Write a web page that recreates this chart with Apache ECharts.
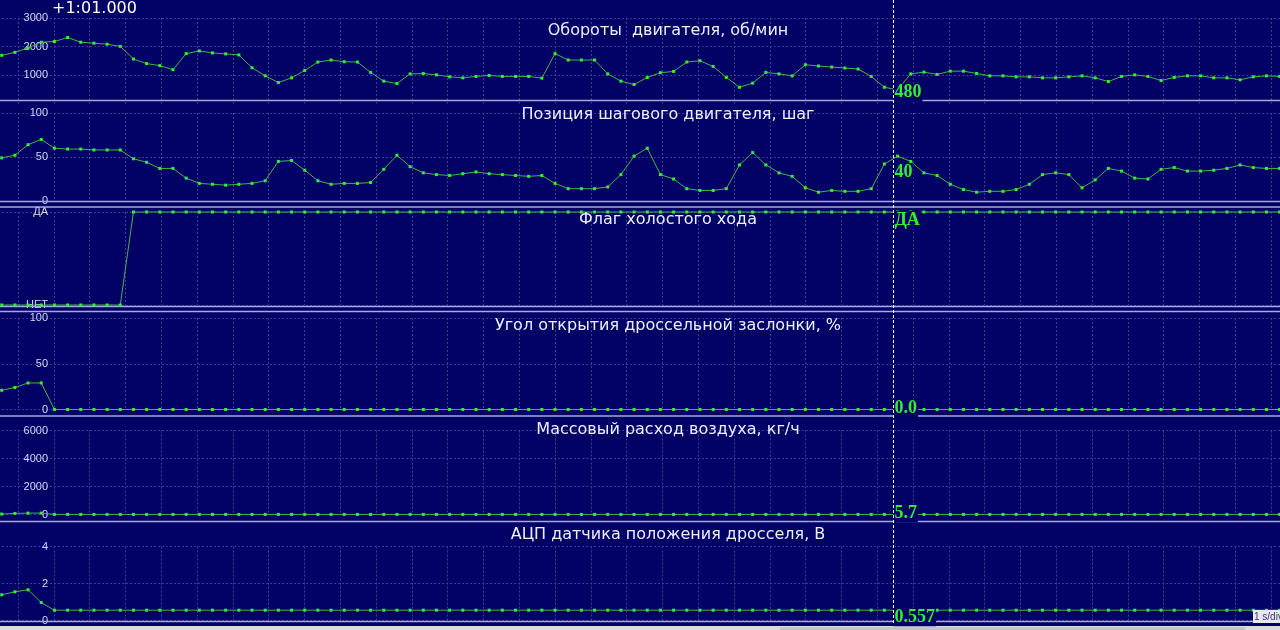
<!DOCTYPE html>
<html><head><meta charset="utf-8">
<script src="https://cdn.jsdelivr.net/npm/echarts@6/dist/echarts.min.js"></script>
<style>html,body{margin:0;padding:0;background:#020266;overflow:hidden;width:1280px;height:630px;position:relative}
#c{position:absolute;left:-18px;top:0;width:1330px;height:630px}</style>
</head><body><div id="c"></div>
<script>
// ---- data ----
const SAMPLE_START = 0.545;   // s, time of first visible sample
const SAMPLE_PERIOD = 0.368;  // s
const CURSOR_TIME = 25.44;    // s
const TIME_LABEL = '+1:01.000';
const DIV_LABEL = '1 s/div';

const titles = [
  'Обороты  двигателя, об/мин',
  'Позиция шагового двигателя, шаг',
  'Флаг холостого хода',
  'Угол открытия дроссельной заслонки, %',
  'Массовый расход воздуха, кг/ч',
  'АЦП датчика положения дросселя, В'
];

const rpm = [1690,1795,1950,2150,2175,2315,2150,2115,2080,2005,1560,1400,1330,1185,1750,1845,1775,1740,1705,1255,
  970,735,900,1160,1455,1525,1465,1455,1090,785,700,1040,1050,1005,935,900,950,985,950,950,
  950,890,1750,1525,1525,1525,1040,785,665,915,1080,1125,1455,1500,1300,915,570,715,1090,1040,
  970,1360,1315,1280,1245,1210,950,570,480,1040,1100,1020,1135,1135,1055,970,970,935,935,900,
  900,935,970,900,770,950,1005,950,805,915,970,970,900,900,830,935,970,950];

const stepper = [49,52,64,70,60,59,59,58,58,58,48,44,37,37,26,20,19,18,19,20,
  23,45,46,35,23,19,20,20,21,36,52,39,32,30,29,31,33,31,30,29,
  28,29,20,14,14,14,16,30,51,60,30,25,14,12,12,14,41,55,41,32,
  28,15,10,12,11,11,14,42,51,45,32,29,19,13,10,11,11,13,19,30,
  32,30,15,24,37,34,26,25,36,38,34,34,35,37,41,38,37,37];

const idleFlag = [0,0,0,0,0,0,0,0,0,0,1,1,1,1,1,1,1,1,1,1,
  1,1,1,1,1,1,1,1,1,1,1,1,1,1,1,1,1,1,1,1,
  1,1,1,1,1,1,1,1,1,1,1,1,1,1,1,1,1,1,1,1,
  1,1,1,1,1,1,1,1,1,1,1,1,1,1,1,1,1,1,1,1,
  1,1,1,1,1,1,1,1,1,1,1,1,1,1,1,1,1,1];

const throttle = [21,24,29,29,0,0,0,0,0,0,0,0,0,0,0,0,0,0,0,0,
  0,0,0,0,0,0,0,0,0,0,0,0,0,0,0,0,0,0,0,0,
  0,0,0,0,0,0,0,0,0,0,0,0,0,0,0,0,0,0,0,0,
  0,0,0,0,0,0,0,0,0,0,0,0,0,0,0,0,0,0,0,0,
  0,0,0,0,0,0,0,0,0,0,0,0,0,0,0,0,0,0];

const airMass = [30,75,100,100,5.7,5.7,5.7,5.7,5.7,5.7,5.7,5.7,5.7,5.7,5.7,5.7,5.7,5.7,5.7,5.7,
  5.7,5.7,5.7,5.7,5.7,5.7,5.7,5.7,5.7,5.7,5.7,5.7,5.7,5.7,5.7,5.7,5.7,5.7,5.7,5.7,
  5.7,5.7,5.7,5.7,5.7,5.7,5.7,5.7,5.7,5.7,5.7,5.7,5.7,5.7,5.7,5.7,5.7,5.7,5.7,5.7,
  5.7,5.7,5.7,5.7,5.7,5.7,5.7,5.7,5.7,5.7,5.7,5.7,5.7,5.7,5.7,5.7,5.7,5.7,5.7,5.7,
  5.7,5.7,5.7,5.7,5.7,5.7,5.7,5.7,5.7,5.7,5.7,5.7,5.7,5.7,5.7,5.7,5.7,5.7];

const tpsAdc = [1.39,1.55,1.66,0.97,0.557,0.557,0.557,0.557,0.557,0.557,0.557,0.557,0.557,0.557,0.557,0.557,0.557,0.557,0.557,0.557,
  0.557,0.557,0.557,0.557,0.557,0.557,0.557,0.557,0.557,0.557,0.557,0.557,0.557,0.557,0.557,0.557,0.557,0.557,0.557,0.557,
  0.557,0.557,0.557,0.557,0.557,0.557,0.557,0.557,0.557,0.557,0.557,0.557,0.557,0.557,0.557,0.557,0.557,0.557,0.557,0.557,
  0.557,0.557,0.557,0.557,0.557,0.557,0.557,0.557,0.557,0.557,0.557,0.557,0.557,0.557,0.557,0.557,0.557,0.557,0.557,0.557,
  0.557,0.557,0.557,0.557,0.557,0.557,0.557,0.557,0.557,0.557,0.557,0.557,0.557,0.557,0.557,0.557,0.557,0.557];

const yMin = [0, 0, 0, 0, 0, 0];
const yMax = [3000, 100, 1, 100, 6000, 4];
const yInterval = [1000, 50, 1, 50, 2000, 2];
const flagLabels = ['НЕТ', 'ДА'];

const cursorValues = [480, 40, 1, 0, 5.7, 0.557];
const cursorTexts = ['480', '40', 'ДА', '0.0', '5.7', '0.557'];

const X_MAX = 37;
// ---- layout / style ----
const OX = 18; // chart canvas is shifted 18px left of the page
const BG = '#020266';
const GRIDC = '#3e3e94';
const SEPC = '#a8a8de';
const panels = [
  {top: 18, height: 85.5, titleY: 31, lblDy: 3},
  {top: 113, height: 88, titleY: 115, lblDy: 7},
  {top: 212, height: 93, titleY: 220, lblDy: 8},
  {top: 318, height: 91.5, titleY: 326, lblDy: -1.5},
  {top: 430.5, height: 84, titleY: 430, lblDy: -1},
  {top: 546.5, height: 74, titleY: 535, lblDy: 7}
];
const seriesData = [rpm, stepper, idleFlag, throttle, airMass, tpsAdc];
const times = rpm.map((_, k) => +(SAMPLE_START + k * SAMPLE_PERIOD).toFixed(4));

const chart = echarts.init(document.getElementById('c'), null, {renderer: 'canvas'});

const grid = [], xAxis = [], yAxis = [], series = [];
panels.forEach((p, i) => {
  grid.push({left: 0.2, right: 5.2, top: p.top, height: p.height, containLabel: false});
  xAxis.push({gridIndex: i, type: 'value', min: 0, max: X_MAX, interval: 1,
    axisLine: {show: false}, axisTick: {show: false}, axisLabel: {show: false},
    splitLine: {show: true, lineStyle: {color: GRIDC, type: [2, 2], width: 1}}});
  yAxis.push({gridIndex: i, type: 'value', min: yMin[i], max: yMax[i], interval: yInterval[i],
    position: 'left', offset: -67.8,
    axisLine: {show: false}, axisTick: {show: false},
    axisLabel: {show: true, margin: 2, color: '#d6d6f2', fontSize: 11, fontFamily: 'Liberation Sans',
      padding: [3, 0, 0, 0],
      showMinLabel: i !== 0,
      formatter: i === 2 ? (v => flagLabels[v] || '') : (v => String(v))},
    splitLine: {show: true, showMinLine: i !== 0, lineStyle: {color: GRIDC, type: [2, 2], width: 1}}});
  series.push({type: 'line', xAxisIndex: i, yAxisIndex: i,
    data: seriesData[i].map((v, k) => [times[k], v]),
    symbol: 'rect', symbolSize: 3, showAllSymbol: true, clip: false,
    itemStyle: {color: '#33ee33'},
    lineStyle: {color: '#4ab04a', width: 1},
    animation: false, silent: true,
    markPoint: {
      symbol: 'rect', symbolSize: 1, itemStyle: {color: 'rgba(0,0,0,0)'}, animation: false,
      data: [{coord: [CURSOR_TIME, cursorValues[i]]}],
      label: {show: true, position: 'right', distance: 0, offset: [0, p.lblDy],
        formatter: cursorTexts[i], color: '#33ee33', fontFamily: 'Liberation Serif',
        fontWeight: 'bold', fontSize: 18, backgroundColor: BG, padding: [0, 1, 0, 1]}
    }});
});

chart.setOption({backgroundColor: BG, animation: false, grid, xAxis, yAxis, series});

const cx = Math.round(chart.convertToPixel({xAxisIndex: 0}, CURSOR_TIME)) + 0.5;
const sepYs = [100.5, 201.5, 207, 306.5, 311.5, 416, 521.5, 621.5];
const graphic = [];
sepYs.forEach(y => graphic.push({type: 'line', z: 1, shape: {x1: 0, y1: y, x2: 1330, y2: y},
  style: {stroke: SEPC, lineWidth: 1.5}}));
graphic.push({type: 'rect', z: 1, shape: {x: 0, y: 626, width: 1330, height: 4}, style: {fill: '#dcdce4'}});
graphic.push({type: 'rect', z: 2, shape: {x: OX + 780, y: 627, width: 465, height: 3}, style: {fill: '#c4c4cc'}});
panels.forEach((p, i) => graphic.push({type: 'text', z: 20, x: OX + 668, y: p.titleY,
  style: {text: titles[i], fill: '#eeeeff', font: '16px "DejaVu Sans"', textAlign: 'center', textVerticalAlign: 'middle'}}));
graphic.push({type: 'text', z: 20, x: OX + 52, y: 9, style: {text: TIME_LABEL, fill: '#ffffff',
  font: '16px "DejaVu Sans"', textAlign: 'left', textVerticalAlign: 'middle'}});
graphic.push({type: 'line', z: 15, shape: {x1: cx, y1: 0, x2: cx, y2: 625},
  style: {stroke: '#ffffff', lineWidth: 1, lineDash: [3, 2]}});
graphic.push({type: 'rect', z: 20, shape: {x: OX + 1253, y: 610, width: 30, height: 13}, style: {fill: '#e8e8f0'}});
graphic.push({type: 'text', z: 21, x: OX + 1254, y: 617, style: {text: DIV_LABEL, fill: '#3a3a5a',
  font: '10px "Liberation Sans"', textAlign: 'left', textVerticalAlign: 'middle'}});
chart.setOption({graphic});
</script></body></html>
